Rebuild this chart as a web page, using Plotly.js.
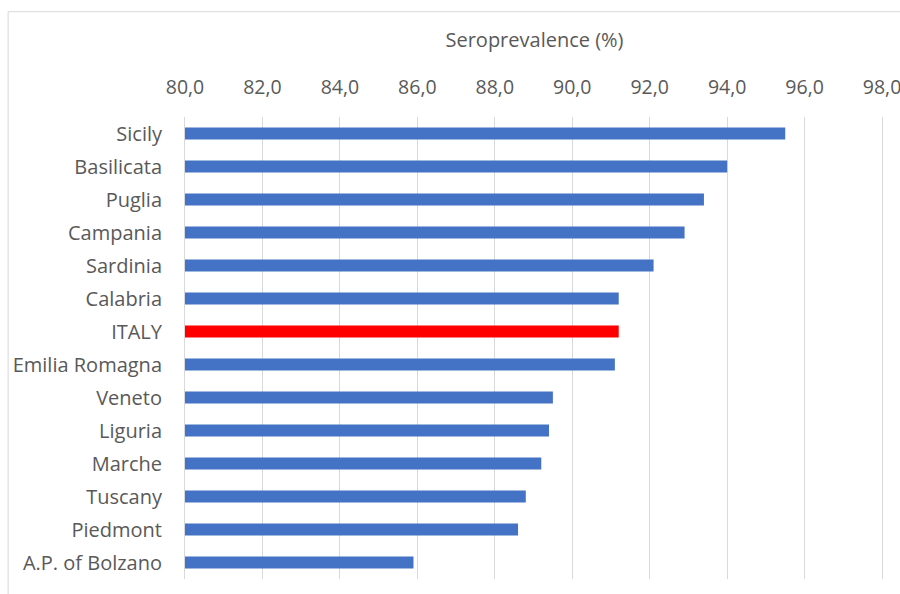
<!DOCTYPE html>
<html>
<head>
<meta charset="utf-8">
<script src="https://cdn.plot.ly/plotly-3.0.1.min.js"></script>
<style>
  html, body { margin: 0; padding: 0; background: #ffffff; }
  #chart { width: 900px; height: 594px; }
</style>
</head>
<body>
<div id="chart"></div>
<script>
// Regional seroprevalence, listed top to bottom
const regions = [
  "Sicily", "Basilicata", "Puglia", "Campania", "Sardinia", "Calabria",
  "ITALY", "Emilia Romagna", "Veneto", "Liguria", "Marche", "Tuscany",
  "Piedmont", "A.P. of Bolzano"
];
const seroprevalence = [
  95.5, 94.0, 93.4, 92.9, 92.1, 91.2,
  91.2, 91.1, 89.5, 89.4, 89.2, 88.8,
  88.6, 85.9
];
const tickValues = [80, 82, 84, 86, 88, 90, 92, 94, 96, 98];

const barColors = regions.map(r => r === "ITALY" ? "#FF0000" : "#4472C4");

const baseline = 80;
const trace = {
  type: "bar",
  orientation: "h",
  y: regions,
  x: seroprevalence.map(v => v - baseline),
  base: baseline,
  marker: { color: barColors, line: { width: 0 } },
  width: 0.36,
  hoverinfo: "y+x"
};

const fam = "'Open Sans', 'Noto Sans', sans-serif";
const grey = "#595959";

const layout = {
  width: 900,
  height: 594,
  // range runs a hair past 98 so the last gridline stays inside the plot
  margin: { l: 184.5, r: 16.4, t: 117, b: 15, pad: 0 },
  paper_bgcolor: "#ffffff",
  plot_bgcolor: "#ffffff",
  separators: ", ",
  showlegend: false,
  font: { family: fam, size: 20, color: grey },
  xaxis: {
    side: "top",
    range: [80, 98.05],
    tickvals: tickValues,
    tickformat: ".1f",
    showgrid: true,
    gridcolor: "#d9d9d9",
    gridwidth: 1,
    zeroline: false,
    showline: false,
    ticks: "outside",
    ticklen: 14,
    tickcolor: "rgba(0,0,0,0)",
    tickfont: { family: fam, size: 19.5, color: grey },
    ticklabeloverflow: "allow",
    fixedrange: true,
    automargin: false,
    title: {
      text: "Seroprevalence (%)",
      font: { family: fam, size: 20, color: grey },
      standoff: 20
    }
  },
  yaxis: {
    type: "category",
    autorange: "reversed",
    showgrid: false,
    zeroline: false,
    showline: true,
    linecolor: "#d9d9d9",
    linewidth: 1,
    ticks: "outside",
    ticklen: 18,
    tickcolor: "rgba(0,0,0,0)",
    tickfont: { family: fam, size: 20, color: grey },
    fixedrange: true,
    automargin: false
  },
  shapes: [
    {
      type: "rect",
      xref: "paper", yref: "paper",
      x0: -0.253, x1: 1.1,
      y0: -0.2, y1: 1.228,
      line: { color: "#d9d9d9", width: 1 },
      fillcolor: "rgba(0,0,0,0)",
      layer: "below"
    }
  ]
};

Plotly.newPlot("chart", [trace], layout, { displayModeBar: false, staticPlot: true });
</script>
</body>
</html>
